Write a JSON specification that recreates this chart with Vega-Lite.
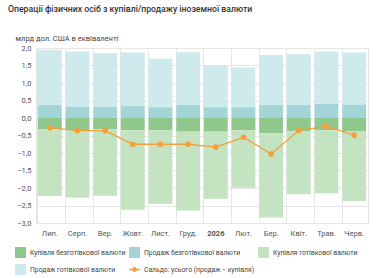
{
  "$schema": "https://vega.github.io/schema/vega-lite/v6.json",
  "width": 332,
  "height": 175,
  "autosize": {"type": "none"},
  "padding": {"left": 36, "top": 48, "right": 14, "bottom": 55},
  "background": "white",
  "config": {
    "font": "Roboto",
    "view": {"stroke": "#e3e3e3", "strokeWidth": 1},
    "axis": {"gridColor": "#e6e6e6", "gridWidth": 1}
  },
  "title": {
    "text": "Операції фізичних осіб з купівлі/продажу іноземної валюти",
    "anchor": "start",
    "frame": "group",
    "dx": -28,
    "offset": 20,
    "fontSize": 8.7,
    "fontWeight": 500,
    "color": "#333333"
  },
  "datasets": {
    "flows": [
      {"month": "Лип.", "kind": "Продаж безготівкової валюти", "ord": 1, "value": 0.37},
      {"month": "Лип.", "kind": "Продаж готівкової валюти", "ord": 2, "value": 1.58},
      {"month": "Лип.", "kind": "Купівля безготівкової валюти", "ord": 1, "value": -0.32},
      {"month": "Лип.", "kind": "Купівля готівкової валюти", "ord": 2, "value": -1.91},
      {"month": "Серп.", "kind": "Продаж безготівкової валюти", "ord": 1, "value": 0.33},
      {"month": "Серп.", "kind": "Продаж готівкової валюти", "ord": 2, "value": 1.57},
      {"month": "Серп.", "kind": "Купівля безготівкової валюти", "ord": 1, "value": -0.35},
      {"month": "Серп.", "kind": "Купівля готівкової валюти", "ord": 2, "value": -1.92},
      {"month": "Вер.", "kind": "Продаж безготівкової валюти", "ord": 1, "value": 0.33},
      {"month": "Вер.", "kind": "Продаж готівкової валюти", "ord": 2, "value": 1.52},
      {"month": "Вер.", "kind": "Купівля безготівкової валюти", "ord": 1, "value": -0.32},
      {"month": "Вер.", "kind": "Купівля готівкової валюти", "ord": 2, "value": -1.90},
      {"month": "Жовт.", "kind": "Продаж безготівкової валюти", "ord": 1, "value": 0.34},
      {"month": "Жовт.", "kind": "Продаж готівкової валюти", "ord": 2, "value": 1.53},
      {"month": "Жовт.", "kind": "Купівля безготівкової валюти", "ord": 1, "value": -0.35},
      {"month": "Жовт.", "kind": "Купівля готівкової валюти", "ord": 2, "value": -2.27},
      {"month": "Лист.", "kind": "Продаж безготівкової валюти", "ord": 1, "value": 0.31},
      {"month": "Лист.", "kind": "Продаж готівкової валюти", "ord": 2, "value": 1.38},
      {"month": "Лист.", "kind": "Купівля безготівкової валюти", "ord": 1, "value": -0.35},
      {"month": "Лист.", "kind": "Купівля готівкової валюти", "ord": 2, "value": -2.10},
      {"month": "Груд.", "kind": "Продаж безготівкової валюти", "ord": 1, "value": 0.37},
      {"month": "Груд.", "kind": "Продаж готівкової валюти", "ord": 2, "value": 1.51},
      {"month": "Груд.", "kind": "Купівля безготівкової валюти", "ord": 1, "value": -0.39},
      {"month": "Груд.", "kind": "Купівля готівкової валюти", "ord": 2, "value": -2.25},
      {"month": "2026", "kind": "Продаж безготівкової валюти", "ord": 1, "value": 0.31},
      {"month": "2026", "kind": "Продаж готівкової валюти", "ord": 2, "value": 1.18},
      {"month": "2026", "kind": "Купівля безготівкової валюти", "ord": 1, "value": -0.39},
      {"month": "2026", "kind": "Купівля готівкової валюти", "ord": 2, "value": -1.92},
      {"month": "Лют.", "kind": "Продаж безготівкової валюти", "ord": 1, "value": 0.31},
      {"month": "Лют.", "kind": "Продаж готівкової валюти", "ord": 2, "value": 1.13},
      {"month": "Лют.", "kind": "Купівля безготівкової валюти", "ord": 1, "value": -0.35},
      {"month": "Лют.", "kind": "Купівля готівкової валюти", "ord": 2, "value": -1.64},
      {"month": "Бер.", "kind": "Продаж безготівкової валюти", "ord": 1, "value": 0.37},
      {"month": "Бер.", "kind": "Продаж готівкової валюти", "ord": 2, "value": 1.43},
      {"month": "Бер.", "kind": "Купівля безготівкової валюти", "ord": 1, "value": -0.44},
      {"month": "Бер.", "kind": "Купівля готівкової валюти", "ord": 2, "value": -2.40},
      {"month": "Квіт.", "kind": "Продаж безготівкової валюти", "ord": 1, "value": 0.37},
      {"month": "Квіт.", "kind": "Продаж готівкової валюти", "ord": 2, "value": 1.45},
      {"month": "Квіт.", "kind": "Купівля безготівкової валюти", "ord": 1, "value": -0.37},
      {"month": "Квіт.", "kind": "Купівля готівкової валюти", "ord": 2, "value": -1.81},
      {"month": "Трав.", "kind": "Продаж безготівкової валюти", "ord": 1, "value": 0.41},
      {"month": "Трав.", "kind": "Продаж готівкової валюти", "ord": 2, "value": 1.49},
      {"month": "Трав.", "kind": "Купівля безготівкової валюти", "ord": 1, "value": -0.35},
      {"month": "Трав.", "kind": "Купівля готівкової валюти", "ord": 2, "value": -1.80},
      {"month": "Черв.", "kind": "Продаж безготівкової валюти", "ord": 1, "value": 0.39},
      {"month": "Черв.", "kind": "Продаж готівкової валюти", "ord": 2, "value": 1.48},
      {"month": "Черв.", "kind": "Купівля безготівкової валюти", "ord": 1, "value": -0.37},
      {"month": "Черв.", "kind": "Купівля готівкової валюти", "ord": 2, "value": -2.00}
    ],
    "balance": [
      {"month": "Лип.", "value": -0.28},
      {"month": "Серп.", "value": -0.36},
      {"month": "Вер.", "value": -0.36},
      {"month": "Жовт.", "value": -0.75},
      {"month": "Лист.", "value": -0.75},
      {"month": "Груд.", "value": -0.75},
      {"month": "2026", "value": -0.83},
      {"month": "Лют.", "value": -0.55},
      {"month": "Бер.", "value": -1.03},
      {"month": "Квіт.", "value": -0.35},
      {"month": "Трав.", "value": -0.24},
      {"month": "Черв.", "value": -0.49}
    ]
  },
  "encoding": {
    "x": {
      "field": "month",
      "type": "nominal",
      "sort": null,
      "scale": {"paddingInner": 0.14, "paddingOuter": 0.07},
      "axis": {
        "title": null,
        "labelAngle": 0,
        "labelFontSize": 7.5,
        "labelColor": "#555555",
        "labelPadding": 6,
        "labelFontWeight": {"condition": {"test": "datum.value === '2026'", "value": "bold"}, "value": "normal"},
        "ticks": false,
        "domain": false,
        "grid": true,
        "bandPosition": 0
      }
    },
    "y": {
      "field": "value",
      "type": "quantitative",
      "scale": {"domain": [-3, 2], "nice": false},
      "axis": {
        "title": "млрд дол. США в еквіваленті",
        "titleAngle": 0,
        "titleAlign": "left",
        "titleBaseline": "bottom",
        "titleX": -21,
        "titleY": -6,
        "titleFontSize": 7.5,
        "titleFontWeight": "normal",
        "titleColor": "#444444",
        "values": [-3, -2.5, -2, -1.5, -1, -0.5, 0, 0.5, 1, 1.5, 2],
        "labelExpr": "replace(format(datum.value, '.1f'), '.', ',')",
        "labelOverlap": false,
        "labelFontSize": 7.5,
        "labelColor": "#555555",
        "labelPadding": 5,
        "ticks": false,
        "domain": false
      }
    }
  },
  "layer": [
    {
      "data": {"name": "flows"},
      "mark": {"type": "bar"},
      "encoding": {
        "y": {"field": "value", "type": "quantitative", "stack": "zero"},
        "order": {"field": "ord", "type": "quantitative"},
        "color": {
          "field": "kind",
          "type": "nominal",
          "scale": {
            "domain": ["Купівля безготівкової валюти", "Продаж безготівкової валюти", "Купівля готівкової валюти", "Продаж готівкової валюти", "Сальдо: усього (продаж − купівля)"],
            "range": ["#8fc78c", "#a3d5d8", "#c3e3c1", "#cfeaed", "#f4a03c"]
          },
          "legend": {
            "title": null,
            "orient": "none",
            "legendX": -21,
            "legendY": 199,
            "direction": "horizontal",
            "columns": 3,
            "symbolType": "square",
            "symbolSize": 121,
            "symbolStrokeWidth": 0,
            "labelFontSize": 6.8,
            "labelColor": "#444444",
            "labelOffset": 4,
            "columnPadding": 3,
            "rowPadding": 6,
            "labelLimit": 200,
            "encode": {
              "symbols": {
                "update": {
                  "shape": {"signal": "datum.value === 'Сальдо: усього (продаж − купівля)' ? 'M-1,-0.12H1V0.12H-1Z M-0.45,0A0.45,0.45,0,1,1,0.45,0A0.45,0.45,0,1,1,-0.45,0Z' : 'square'"}
                }
              }
            }
          }
        }
      }
    },
    {
      "data": {"name": "balance"},
      "mark": {"type": "line", "strokeWidth": 1.3, "point": {"filled": true, "size": 32}},
      "encoding": {
        "color": {"datum": "Сальдо: усього (продаж − купівля)"}
      }
    }
  ]
}
